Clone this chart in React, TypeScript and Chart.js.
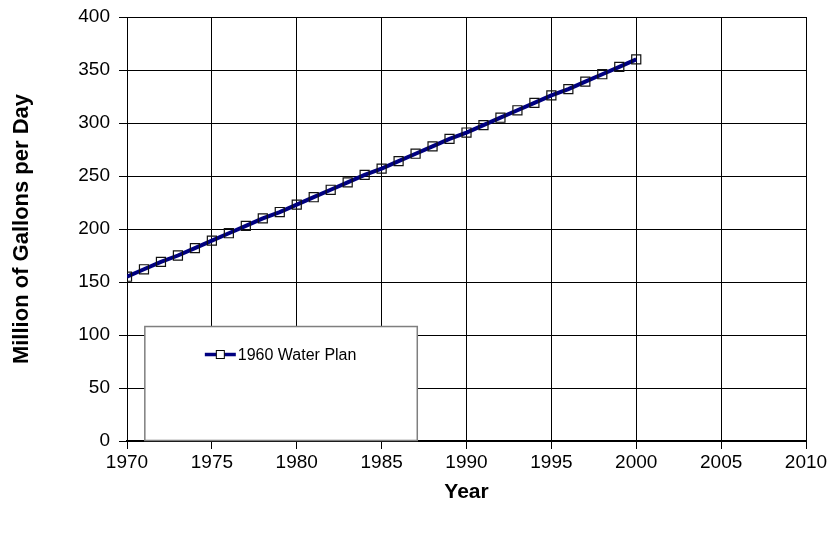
import React, { useEffect, useRef } from "react";
import { Chart, registerables } from "chart.js";

Chart.register(...registerables);

const years = [
  1970, 1971, 1972, 1973, 1974, 1975, 1976, 1977, 1978, 1979,
  1980, 1981, 1982, 1983, 1984, 1985, 1986, 1987, 1988, 1989,
  1990, 1991, 1992, 1993, 1994, 1995, 1996, 1997, 1998, 1999, 2000,
];
const waterPlan1960 = [
  155, 162, 169, 175, 182, 189, 196, 203, 210, 216,
  223, 230, 237, 244, 251, 257, 264, 271, 278, 285,
  291, 298, 305, 312, 319, 326, 332, 339, 346, 353, 360,
];
const seriesName = "1960 Water Plan";
const xTitle = "Year";
const yTitle = "Million of Gallons per Day";

const FONT = "'Liberation Sans', Arial, Helvetica, sans-serif";

const legendPlugin = {
  id: "boxLegend",
  afterDatasetsDraw(chart: any) {
    const { ctx, scales } = chart;
    const x = scales.x;
    const y = scales.y;
    const left = x.getPixelForValue(1971.05);
    const right = x.getPixelForValue(1987.1);
    const top = y.getPixelForValue(108);
    const bottom = y.getPixelForValue(0.5);
    ctx.save();
    ctx.fillStyle = "#ffffff";
    ctx.fillRect(left, top, right - left, bottom - top);
    ctx.strokeStyle = "#7f7f7f";
    ctx.lineWidth = 1.5;
    ctx.strokeRect(left, top, right - left, bottom - top);
    const cy = top + 28;
    const lx0 = left + 60;
    const lx1 = left + 91;
    ctx.strokeStyle = "#000080";
    ctx.lineWidth = 3.5;
    ctx.beginPath();
    ctx.moveTo(lx0, cy);
    ctx.lineTo(lx1, cy);
    ctx.stroke();
    const mx = (lx0 + lx1) / 2;
    ctx.fillStyle = "#ffffff";
    ctx.fillRect(mx - 4, cy - 4, 8, 8);
    ctx.strokeStyle = "#000000";
    ctx.lineWidth = 1;
    ctx.strokeRect(mx - 4, cy - 4, 8, 8);
    ctx.fillStyle = "#000000";
    ctx.font = `16px ${FONT}`;
    ctx.textBaseline = "middle";
    ctx.textAlign = "left";
    ctx.fillText(seriesName, lx1 + 2, cy + 1);
    ctx.restore();
  },
};

export default function App() {
  const ref = useRef<HTMLCanvasElement | null>(null);
  useEffect(() => {
    document.body.style.margin = "0";
    const canvas = ref.current;
    if (!canvas) return;
    const chart = new Chart(canvas, {
      type: "line",
      data: {
        datasets: [
          {
            label: seriesName,
            data: years.map((yr, i) => ({ x: yr, y: waterPlan1960[i] })),
            borderColor: "#000080",
            borderWidth: 4,
            pointStyle: "rect",
            pointRadius: 6.4,
            pointBackgroundColor: "rgba(0,0,0,0)",
            pointBorderColor: "#111111",
            pointBorderWidth: 1.2,
            tension: 0,
            fill: false,
          },
        ],
      },
      options: {
        responsive: false,
        animation: false,
        layout: { padding: { left: 0, right: 30, top: 17, bottom: 0 } },
        plugins: {
          legend: { display: false },
          tooltip: { enabled: false },
        },
        scales: {
          x: {
            type: "linear",
            min: 1970,
            max: 2010,
            afterFit: (s: any) => {
              s.height = 94;
              s.paddingLeft = 0;
              s.paddingRight = 0;
            },
            ticks: {
              stepSize: 5,
              color: "#000",
              padding: 2,
              font: { family: FONT, size: 19 },
              callback: (v: any) => String(v),
            },
            grid: {
              color: "#000",
              lineWidth: 1,
              tickLength: 8,
              drawTicks: true,
            },
            border: { color: "#000", width: 2 },
            title: {
              display: true,
              text: xTitle,
              color: "#000",
              font: { family: FONT, size: 21, weight: "bold" },
              padding: { top: 0, bottom: 30 },
            },
          },
          y: {
            min: 0,
            max: 400,
            afterFit: (s: any) => {
              s.width = 127;
              s.paddingTop = 0;
              s.paddingBottom = 0;
            },
            ticks: {
              stepSize: 50,
              color: "#000",
              padding: 9,
              font: { family: FONT, size: 19 },
            },
            grid: {
              color: "#000",
              lineWidth: 1,
              tickLength: 8,
            },
            border: { color: "#000", width: 1 },
            title: {
              display: true,
              text: yTitle,
              color: "#000",
              font: { family: FONT, size: 22, weight: "bold" },
              padding: { top: 9, bottom: 0 },
            },
          },
        },
      },
      plugins: [legendPlugin],
    });
    return () => chart.destroy();
  }, []);
  return (
    <div style={{ width: 836, height: 535 }}>
      <canvas ref={ref} width={836} height={535} />
    </div>
  );
}
